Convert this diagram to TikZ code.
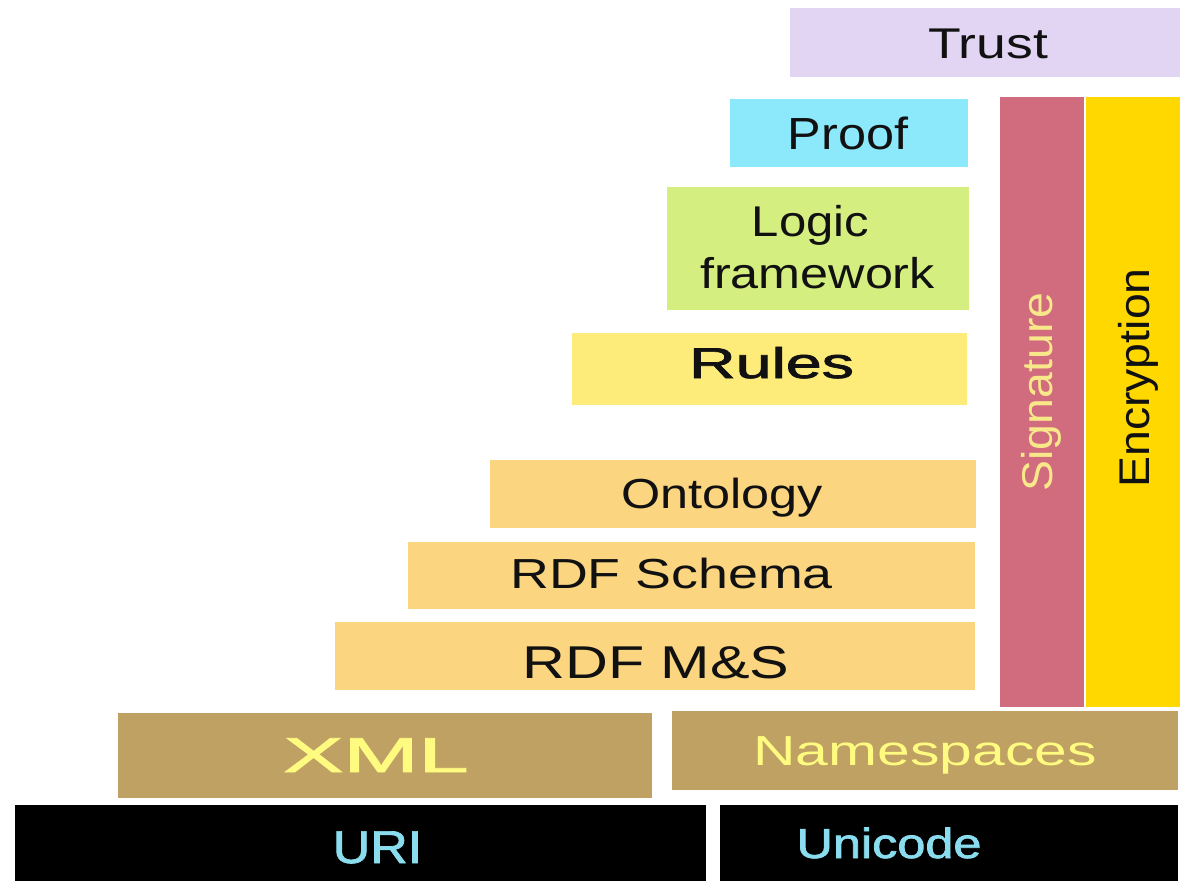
\documentclass[tikz,border=0pt]{standalone}
\usepackage{fontspec}
\setmainfont{Liberation Sans}
\newfontfamily\semibold[FakeBold=1.6]{Liberation Sans}
\newcommand\stretchx[2]{\scalebox{#1}[1]{#2}}
\newcommand\fsz[1]{\fontsize{#1}{#1}\selectfont}
\definecolor{trustc}{HTML}{E2D5F3}
\definecolor{proofc}{HTML}{8CE9FB}
\definecolor{logicc}{HTML}{D4EE80}
\definecolor{rulesc}{HTML}{FDEB7A}
\definecolor{rdfc}{HTML}{FBD57F}
\definecolor{sigc}{HTML}{D06C7E}
\definecolor{encc}{HTML}{FFD800}
\definecolor{xmlc}{HTML}{BFA263}
\definecolor{paleyellow}{HTML}{FFFA80}
\definecolor{sigtext}{HTML}{F8E88A}
\definecolor{uritext}{HTML}{8ADDEE}
\definecolor{ink}{HTML}{111111}
\begin{document}
\begin{tikzpicture}[x=1pt,y=-1pt,
  layer/.style={rectangle,inner sep=0pt,outer sep=0pt,draw=none},
  lbl/.style={inner sep=0pt,outer sep=0pt,anchor=base,text=ink}]
\useasboundingbox (0,0) rectangle (1182,881);
\fill[white] (0,0) rectangle (1182,881);
% layer blocks
\node[layer,fill=trustc,minimum width=390pt,minimum height=69pt] (trust) at (985,42.5) {};
\node[layer,fill=proofc,minimum width=238pt,minimum height=68pt] (proof) at (849,133) {};
\node[layer,fill=logicc,minimum width=302pt,minimum height=123pt] (logic) at (818,248.5) {};
\node[layer,fill=rulesc,minimum width=395pt,minimum height=72pt] (rules) at (769.5,369) {};
\node[layer,fill=rdfc,minimum width=486pt,minimum height=68pt] (onto) at (733,494) {};
\node[layer,fill=rdfc,minimum width=567pt,minimum height=67pt] (schema) at (691.5,575.5) {};
\node[layer,fill=rdfc,minimum width=640pt,minimum height=68pt] (rdfms) at (655,656) {};
\node[layer,fill=sigc,minimum width=84pt,minimum height=610pt] (sig) at (1042,402) {};
\node[layer,fill=encc,minimum width=94pt,minimum height=610pt] (enc) at (1133,402) {};
\node[layer,fill=xmlc,minimum width=534pt,minimum height=85pt] (xml) at (385,755.5) {};
\node[layer,fill=xmlc,minimum width=506pt,minimum height=79pt] (ns) at (925,750.5) {};
\node[layer,fill=black,minimum width=691pt,minimum height=76pt] (uri) at (360.5,843) {};
\node[layer,fill=black,minimum width=458pt,minimum height=76pt] (uni) at (949,843) {};
% labels
\node[lbl,font=\fsz{43}] (trustL) at (988,58) {\stretchx{1.245}{Trust}};
\node[lbl,font=\fsz{45}] (proofL) at (848,149) {\stretchx{1.12}{Proof}};
\node[lbl,font=\fsz{43}] (logicL) at (810.5,236) {\stretchx{1.14}{Logic}};
\node[lbl,font=\fsz{43}] (frameL) at (817.5,288) {\stretchx{1.17}{framework}};
\node[lbl,font=\fsz{43}\semibold] (rulesL) at (771.5,378) {\stretchx{1.5}{Rules}};
\node[lbl,font=\fsz{42}] (ontoL) at (722,508) {\stretchx{1.2}{Ontology}};
\node[lbl,font=\fsz{42}] (schemaL) at (671.5,588) {\stretchx{1.28}{RDF Schema}};
\node[lbl,font=\fsz{46}] (rdfmsL) at (656,678) {\stretchx{1.29}{RDF M\&S}};
\node[lbl,font=\fsz{43},text=sigtext,rotate=90] (sigL) at (1052,392) {\stretchx{1.08}{Signature}};
\node[lbl,font=\fsz{43},rotate=90] (encL) at (1149,378) {\stretchx{1.08}{Encryption}};
\node[lbl,font=\fsz{49}\semibold,text=paleyellow] (xmlL) at (376,772) {\stretchx{1.84}{XML}};
\node[lbl,font=\fsz{42},text=paleyellow] (nsL) at (925,765) {\stretchx{1.4}{Namespaces}};
\node[lbl,font=\fsz{46}\semibold,text=uritext] (uriL) at (377.5,863) {\stretchx{1.13}{URI}};
\node[lbl,font=\fsz{42}\semibold,text=uritext] (uniL) at (889,858) {\stretchx{1.2}{Unicode}};
\end{tikzpicture}
\end{document}
